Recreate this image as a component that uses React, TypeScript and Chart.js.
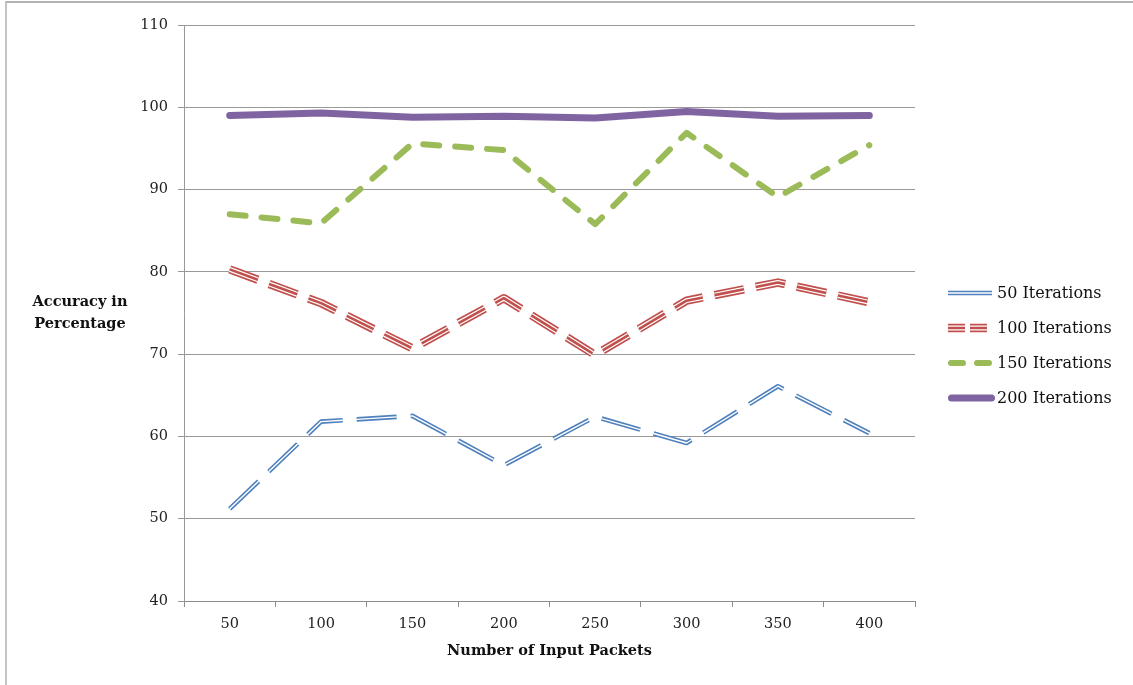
import React, { useEffect, useRef } from "react";
import { Chart, registerables } from "chart.js";

Chart.register(...registerables);

const categories = ["50", "100", "150", "200", "250", "300", "350", "400"];
const seriesNames = ["50 Iterations", "100 Iterations", "150 Iterations", "200 Iterations"];
const iter50 = [51.2, 61.8, 62.5, 56.5, 62.4, 59.2, 66.1, 60.4];
const iter100 = [80.3, 76.2, 70.7, 76.8, 69.9, 76.5, 78.7, 76.3];
const iter150 = [87.0, 85.9, 95.6, 94.8, 85.8, 96.9, 89.1, 95.4];
const iter200 = [99.0, 99.3, 98.8, 98.9, 98.7, 99.5, 98.9, 99.0];
const yMin = 40;
const yMax = 110;
const yStep = 10;
const xTitle = "Number of Input Packets";
const yTitleLines = ["Accuracy in", "Percentage"];

const BLUE = "#4F81BD";
const RED = "#C0504D";
const GREEN = "#9BBB59";
const PURPLE = "#8064A2";
const FONT = "'DejaVu Serif', serif";

type Layer = { color: string; width: number };
type Style = { layers: Layer[]; dash: number[]; legendDash: number[]; cap: CanvasLineCap };

const styles: Style[] = [
  { layers: [{ color: BLUE, width: 4.6 }, { color: "#ffffff", width: 1.4 }], dash: [40, 14], legendDash: [], cap: "butt" },
  {
    layers: [{ color: RED, width: 8.4 }, { color: "#ffffff", width: 5 }, { color: RED, width: 2.6 }],
    dash: [30, 12],
    legendDash: [17, 5],
    cap: "butt",
  },
  { layers: [{ color: GREEN, width: 6 }], dash: [16, 16], legendDash: [12, 14], cap: "round" },
  { layers: [{ color: PURPLE, width: 7 }], dash: [], legendDash: [], cap: "round" },
];

const seriesData = [iter50, iter100, iter150, iter200];

export default function App() {
  const ref = useRef<HTMLCanvasElement | null>(null);

  useEffect(() => {
    if (!ref.current) return;
    const datasets: any[] = [];
    seriesData.forEach((data, si) => {
      const st = styles[si];
      st.layers.forEach((ly, li) => {
        datasets.push({
          label: li === 0 ? seriesNames[si] : seriesNames[si] + "_layer" + li,
          data,
          borderColor: ly.color,
          backgroundColor: ly.color,
          borderWidth: ly.width,
          borderDash: st.dash,
          borderCapStyle: st.cap,
          borderJoinStyle: "round",
          pointRadius: 0,
          pointHoverRadius: 0,
          tension: 0,
          fill: false,
          order: 100 - si * 10 - li,
        });
      });
    });

    const annotate = {
      id: "annotate",
      afterDraw(chart: any) {
        const ctx = chart.ctx as CanvasRenderingContext2D;
        const ca = chart.chartArea;
        ctx.save();
        ctx.fillStyle = "#111";
        ctx.font = "bold 14.5px " + FONT;
        ctx.textAlign = "center";
        ctx.textBaseline = "middle";
        ctx.fillText(xTitle, (ca.left + ca.right) / 2, 651);
        const cy = (ca.top + ca.bottom) / 2;
        yTitleLines.forEach((t, i) => {
          ctx.fillText(t, 80, cy - 11 + i * 22);
        });
        // legend
        const x1 = 948;
        const x2 = 992;
        const rows = [293, 328, 363, 398];
        styles.forEach((st, si) => {
          const y = rows[si];
          st.layers.forEach((ly) => {
            ctx.beginPath();
            ctx.setLineDash(st.legendDash);
            ctx.lineCap = st.cap;
            ctx.strokeStyle = ly.color;
            ctx.lineWidth = ly.width;
            const inset = st.cap === "round" ? ly.width / 2 : 0;
            ctx.moveTo(x1 + inset, y);
            ctx.lineTo(x2 - inset + (si === 3 ? 3 : 0), y);
            ctx.stroke();
          });
          ctx.setLineDash([]);
          ctx.fillStyle = "#111";
          ctx.font = "16px " + FONT;
          ctx.textAlign = "left";
          ctx.textBaseline = "middle";
          ctx.fillText(seriesNames[si], 997, y + 1);
        });
        ctx.restore();
      },
    };

    const chart = new Chart(ref.current, {
      type: "line",
      data: { labels: categories, datasets },
      plugins: [annotate],
      options: {
        animation: false,
        responsive: true,
        maintainAspectRatio: false,
        events: [],
        layout: { padding: { top: 25, right: 218, bottom: 0, left: 0 } },
        plugins: { legend: { display: false }, tooltip: { enabled: false }, title: { display: false } },
        scales: {
          x: {
            type: "category",
            offset: true,
            afterFit: (s: any) => {
              s.height = 84;
            },
            grid: {
              display: true,
              offset: true,
              drawOnChartArea: false,
              drawTicks: true,
              tickLength: 6,
              color: "#8c8c8c",
              tickColor: "#8c8c8c",
            },
            border: { display: true, color: "#8c8c8c", width: 1 },
            ticks: { color: "#222", font: { family: FONT, size: 14.5 }, padding: 9, maxRotation: 0 },
          },
          y: {
            min: yMin,
            max: yMax,
            afterFit: (s: any) => {
              s.width = 184;
            },
            ticks: { stepSize: yStep, color: "#222", font: { family: FONT, size: 14.5 }, padding: 10 },
            grid: { color: "#999", tickColor: "#999", tickLength: 6, lineWidth: 1 },
            border: { display: true, color: "#999", width: 1 },
          },
        },
      },
    });
    return () => chart.destroy();
  }, []);

  return (
    <div style={{ position: "absolute", left: 0, top: 0, width: 1133, height: 685, background: "#fff" }}>
      <div
        style={{
          position: "absolute",
          left: 5,
          top: 1,
          width: 1128,
          height: 684,
          borderTop: "2px solid #b4b4b4",
          borderLeft: "2px solid #c4c4c4",
          boxSizing: "border-box",
        }}
      />
      <div style={{ position: "absolute", left: 0, top: 0, width: 1133, height: 685 }}>
        <canvas ref={ref} />
      </div>
    </div>
  );
}
